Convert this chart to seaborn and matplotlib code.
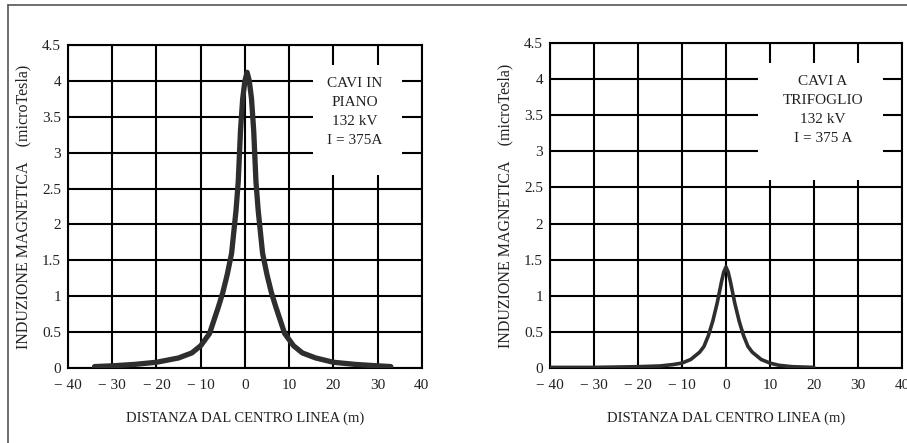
import numpy as np
import matplotlib
matplotlib.use("Agg")
import matplotlib.pyplot as plt
from matplotlib.lines import Line2D
from matplotlib.patches import Rectangle
import seaborn as sns

## Data
# cables laid flat ("in piano")
x_piano = [-34, -30, -25, -20, -15, -12, -10, -8, -6, -5, -4, -3, -2, -1.5, -1, -0.5, 0,
           0.5, 1, 1.5, 2, 2.5, 3, 4, 5, 6, 7, 9, 11, 13, 16, 20, 25, 30, 33]
y_piano = [0.02, 0.03, 0.05, 0.08, 0.14, 0.21, 0.31, 0.48, 0.85, 1.05, 1.30, 1.60, 2.20, 2.60, 3.30, 3.75, 4.00,
           4.12, 4.00, 3.75, 3.30, 2.60, 2.20, 1.60, 1.30, 1.05, 0.85, 0.48, 0.31, 0.21, 0.14, 0.08, 0.05, 0.03, 0.02]

# trefoil cables ("a trifoglio")
x_trif = [-40, -30, -20, -15, -12, -10, -8, -6, -5, -4, -3, -2, -1, -0.5, 0,
          0.5, 1, 2, 3, 4, 5, 6, 8, 10, 12, 15, 20]
y_trif = [0.01, 0.01, 0.02, 0.03, 0.05, 0.07, 0.12, 0.22, 0.30, 0.45, 0.65, 0.90, 1.20, 1.33, 1.40,
          1.33, 1.20, 0.90, 0.65, 0.45, 0.30, 0.22, 0.12, 0.07, 0.04, 0.02, 0.01]

x_ticks = [-40, -30, -20, -10, 0, 10, 20, 30, 40]
x_tick_labels = ["\u2212 40", "\u2212 30", "\u2212 20", "\u2212 10", "0", "10", "20", "30", "40"]
y_ticks = [0, 0.5, 1, 1.5, 2, 2.5, 3, 3.5, 4, 4.5]
y_tick_labels = ["0", "0.5", "1", "1.5", "2", "2.5", "3", "3.5", "4", "4.5"]

labels_piano = "CAVI IN\nPIANO\n132 kV\nI = 375A"
labels_trif = "CAVI A\nTRIFOGLIO\n132 kV\nI = 375 A"

sns.set_theme(style="white")
plt.rcParams['font.family'] = ['Liberation Serif', 'DejaVu Serif']

fig = plt.figure(figsize=(9.07, 4.43), dpi=100)
ax1 = fig.add_axes([0.075, 0.1693, 0.390, 0.729])
ax2 = fig.add_axes([0.6064, 0.169, 0.388, 0.734])

## one panel per cable layout
panels = [
    (ax1, x_piano, y_piano, 3.8, labels_piano, (15.4, 2.69, 20.1, 1.53), 24.8),
    (ax2, x_trif, y_trif, 2.6, labels_trif, (7.3, 2.60, 28.4, 1.62), 22.0),
]
for ax, xs, ys, lw, txt, box, tx in panels:
    sns.lineplot(x=xs, y=ys, ax=ax, color="#2e2e2e", linewidth=lw, zorder=5)
    ax.set_xlim(-40, 40)
    ax.set_ylim(0, 4.5)
    ax.set_xticks(x_ticks)
    ax.set_xticklabels(x_tick_labels)
    ax.set_yticks(y_ticks)
    ax.set_yticklabels(y_tick_labels)
    ax.grid(True, color="black", linewidth=1.5)
    ax.set_axisbelow(True)
    ax.tick_params(length=0, labelsize=11, colors="#222222")
    ax.tick_params(axis="x", pad=8)
    ax.tick_params(axis="y", pad=5)
    for s in ax.spines.values():
        s.set_color("black")
        s.set_linewidth(1.5)
    # white label box hiding part of the grid
    ax.add_patch(Rectangle((box[0], box[1]), box[2], box[3], facecolor="white",
                           edgecolor="none", zorder=3))
    ax.text(tx, 4.06, txt, ha="center", va="top", fontsize=11,
            linespacing=1.6, color="#222222", zorder=6)
    ax.set_xlabel("DISTANZA DAL CENTRO LINEA (m)", fontsize=10.5, color="#222222", labelpad=14)
    ax.set_ylabel("INDUZIONE MAGNETICA    (microTesla)", fontsize=11.5, color="#222222", labelpad=8)

## scan frame
fig.add_artist(Line2D([8 / 907, 1], [1 - 5 / 443, 1 - 5 / 443], color="#555555", linewidth=1.2))
fig.add_artist(Line2D([8 / 907, 8 / 907], [0, 1 - 5 / 443], color="#555555", linewidth=1.2))

fig.savefig("out.png", dpi=100)
